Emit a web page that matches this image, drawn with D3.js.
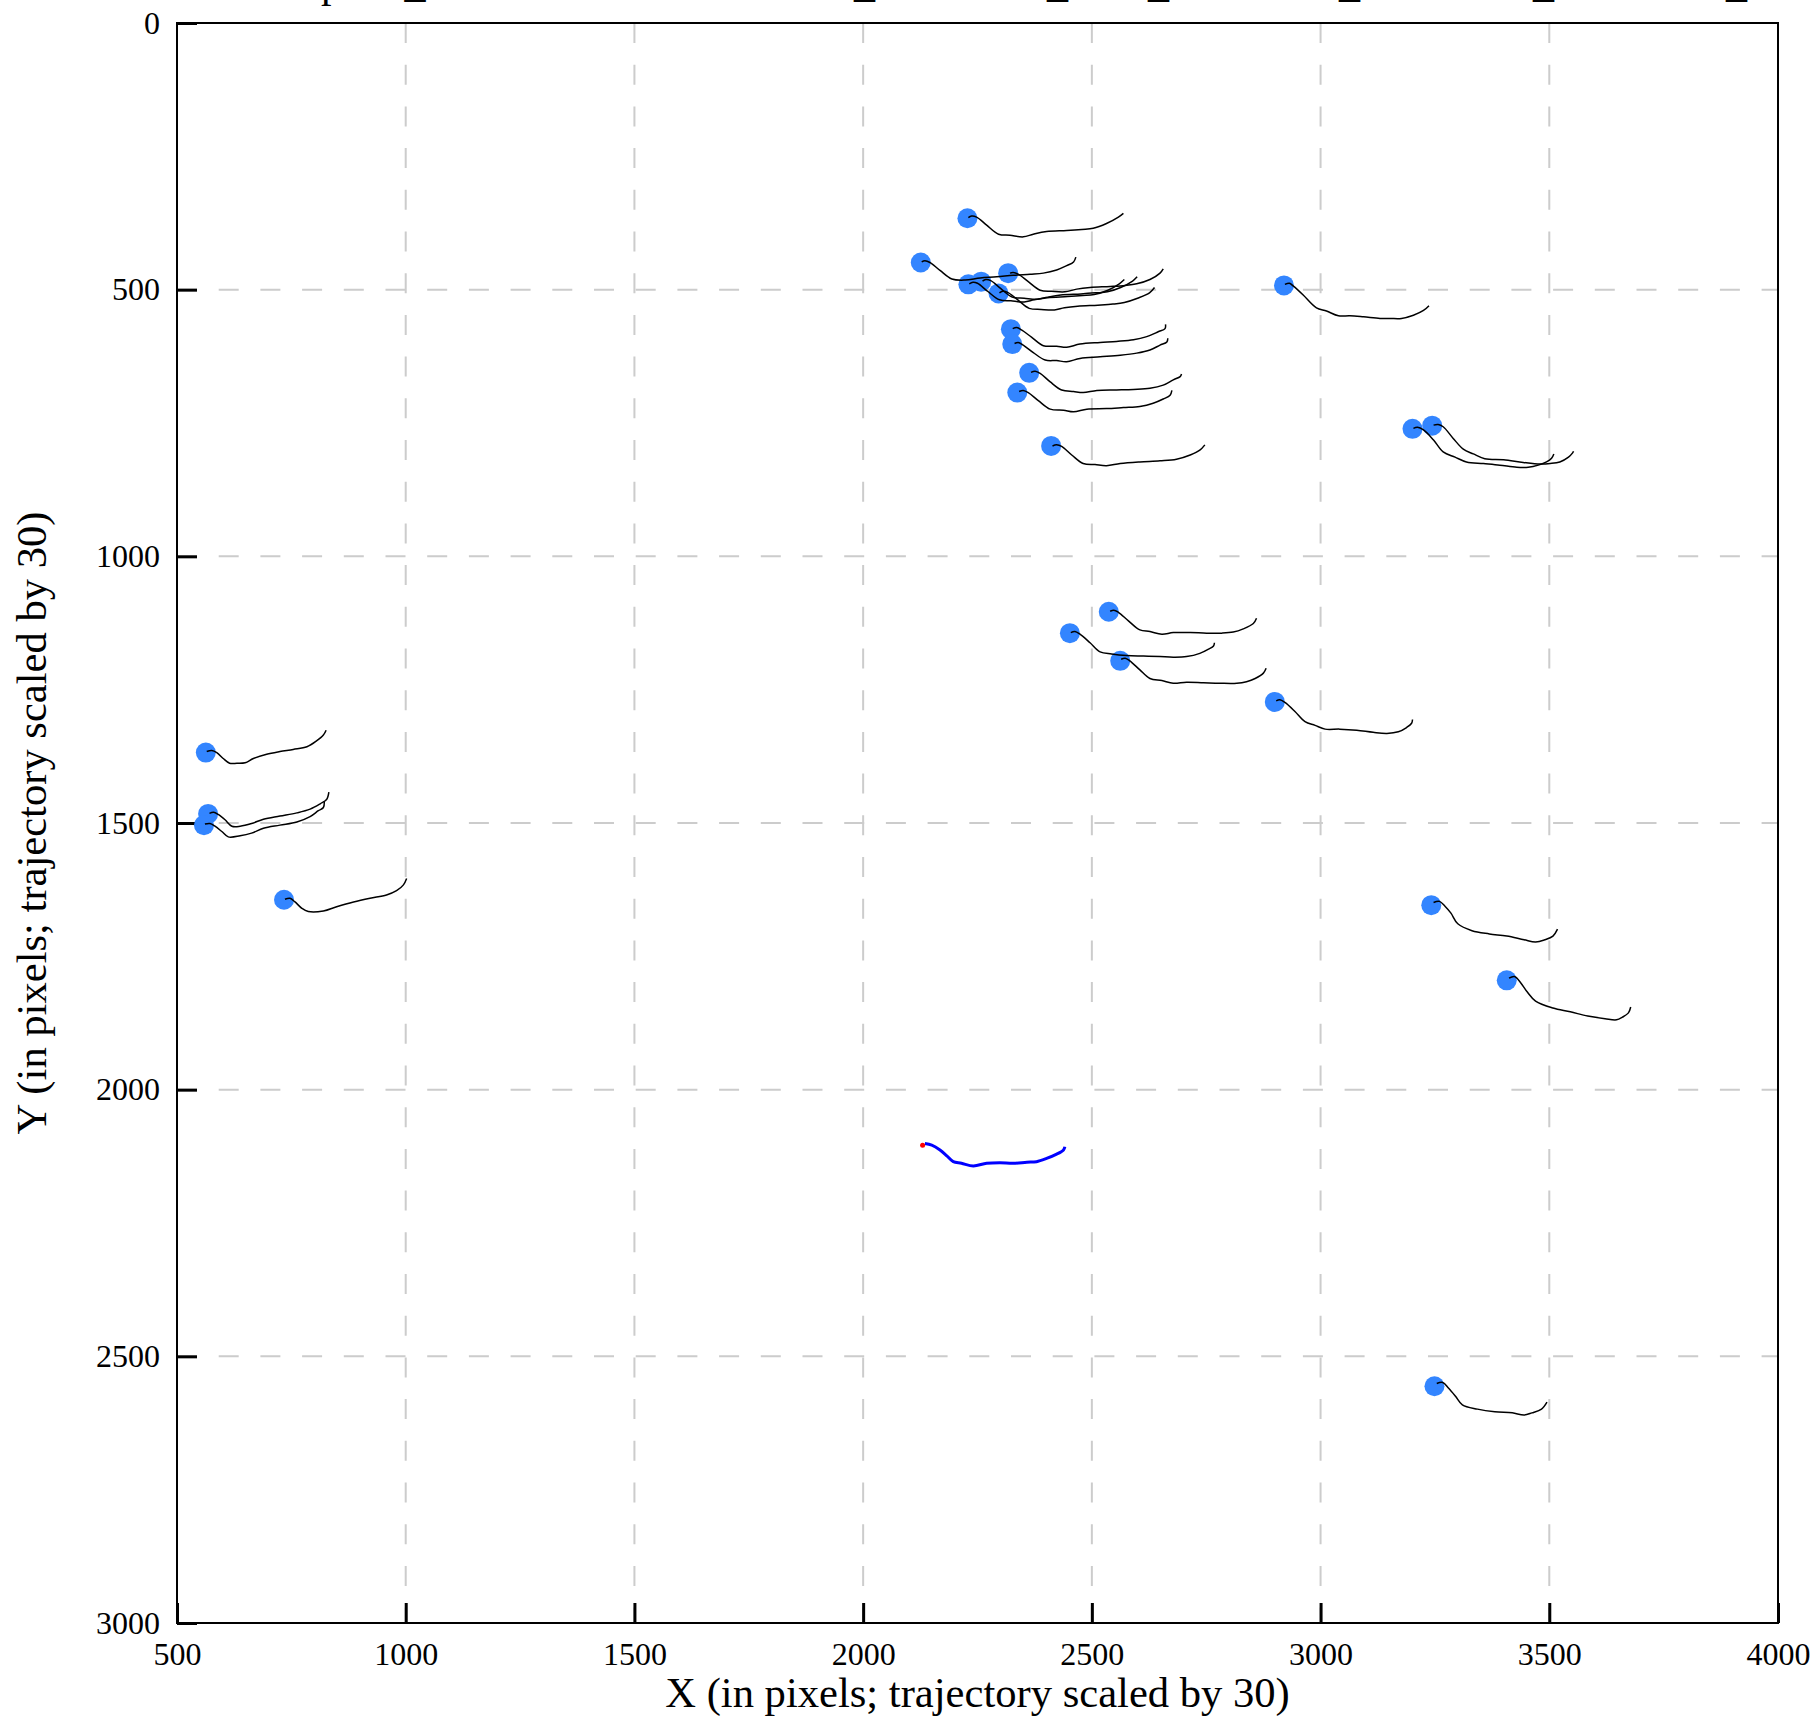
<!DOCTYPE html>
<html>
<head>
<meta charset="utf-8">
<script src="https://cdn.jsdelivr.net/npm/d3@7"></script>
<style>
html, body { margin: 0; padding: 0; background: #ffffff; }
svg { display: block; }
text { font-family: "Liberation Serif", "Times New Roman", serif; fill: #000; }
</style>
</head>
<body>
<svg id="chart" width="1817" height="1723"></svg>
<script>
// ---------------- data ----------------
const xTicks = [500, 1000, 1500, 2000, 2500, 3000, 3500, 4000];
const yTicks = [0, 500, 1000, 1500, 2000, 2500, 3000];
const xLabel = "X (in pixels; trajectory scaled by 30)";
const yLabel = "Y (in pixels; trajectory scaled by 30)";
const titleParts = ["Example", "_scene", "_camera", "_front", "_left", "_token", "_frame", "_ts"];

// agent current positions (blue dots)
const agentX = [2228, 2126, 2317, 2230, 2258, 2296, 2323, 2326, 2363, 2337, 2411, 2920, 3201, 3244,
                2537, 2452, 2562, 2900, 563, 568, 559, 734, 3242, 3407, 3249];
const agentY = [366, 449, 469, 490, 485, 507, 574, 602, 656, 693, 793, 492, 761, 755,
                1104, 1144, 1196, 1273, 1368, 1483, 1504, 1644, 1654, 1795, 2556];

// agent trajectories (black lines), data coordinates
const agentTracks = [
  [[2230,365],[2237,362],[2248,364],[2270,379],[2296,396],[2321,398],[2350,401],[2372,396],[2401,391],[2445,389],[2478,387],[2503,385],[2532,376],[2558,364],[2569,357]],
  [[2128,448],[2135,446],[2146,449],[2168,464],[2194,480],[2223,482],[2256,478],[2292,476],[2328,473],[2365,471],[2394,469],[2423,463],[2445,455],[2460,448],[2465,439]],
  [[2321,469],[2328,468],[2339,471],[2361,485],[2387,501],[2412,503],[2441,504],[2467,499],[2496,496],[2540,494],[2573,492],[2598,489],[2627,481],[2649,469],[2656,461]],
  [[2232,489],[2240,486],[2250,488],[2272,503],[2298,519],[2323,521],[2352,523],[2374,519],[2403,515],[2447,513],[2480,511],[2505,509],[2535,501],[2560,489],[2571,481]],
  [[2261,484],[2268,481],[2279,483],[2301,498],[2326,514],[2352,516],[2381,518],[2403,514],[2432,510],[2476,508],[2508,506],[2534,504],[2563,496],[2589,484],[2599,476]],
  [[2298,506],[2305,503],[2316,505],[2338,519],[2363,535],[2389,537],[2418,538],[2440,534],[2469,531],[2513,529],[2546,527],[2571,524],[2600,516],[2626,506],[2637,496]],
  [[2327,573],[2336,571],[2347,576],[2368,589],[2394,605],[2423,606],[2445,608],[2474,602],[2518,599],[2554,597],[2591,594],[2620,588],[2645,579],[2660,573],[2661,565]],
  [[2331,601],[2339,599],[2350,604],[2372,618],[2398,632],[2423,633],[2445,635],[2474,629],[2518,626],[2562,623],[2598,619],[2627,613],[2649,604],[2664,598],[2666,591]],
  [[2367,655],[2376,653],[2387,657],[2409,673],[2434,688],[2460,691],[2481,693],[2511,689],[2554,688],[2591,687],[2627,685],[2656,679],[2678,669],[2693,663],[2696,658]],
  [[2341,691],[2350,689],[2361,693],[2383,708],[2409,724],[2438,726],[2460,729],[2489,724],[2532,723],[2569,721],[2605,719],[2634,713],[2656,705],[2671,698],[2675,689]],
  [[2414,793],[2423,791],[2434,794],[2456,810],[2481,826],[2507,828],[2532,830],[2562,826],[2605,823],[2649,821],[2685,818],[2715,810],[2736,801],[2747,791]],
  [[2922,490],[2932,488],[2940,493],[2962,510],[2991,534],[3013,540],[3039,549],[3064,549],[3094,551],[3130,554],[3152,554],[3177,554],[3203,548],[3225,539],[3237,530]],
  [[3203,760],[3212,758],[3225,763],[3247,782],[3268,804],[3294,814],[3319,823],[3356,826],[3392,829],[3429,833],[3454,833],[3476,829],[3494,823],[3505,816],[3510,808]],
  [[3247,754],[3257,753],[3268,757],[3290,779],[3312,799],[3334,808],[3359,817],[3400,819],[3443,824],[3480,827],[3502,826],[3523,823],[3542,814],[3551,806],[3553,803]],
  [[2540,1103],[2548,1101],[2558,1105],[2580,1121],[2605,1138],[2627,1141],[2653,1146],[2678,1143],[2715,1143],[2751,1144],[2784,1144],[2809,1142],[2831,1136],[2853,1126],[2860,1116]],
  [[2454,1143],[2463,1141],[2474,1146],[2496,1162],[2518,1179],[2543,1183],[2576,1186],[2613,1187],[2649,1188],[2678,1189],[2707,1188],[2736,1182],[2755,1174],[2766,1168],[2768,1162]],
  [[2564,1193],[2573,1191],[2583,1196],[2605,1213],[2627,1229],[2653,1233],[2678,1238],[2707,1236],[2744,1237],[2780,1238],[2817,1238],[2838,1235],[2857,1229],[2875,1219],[2881,1210]],
  [[2903,1271],[2911,1269],[2922,1274],[2944,1291],[2966,1310],[2988,1317],[3010,1324],[3042,1324],[3079,1326],[3115,1330],[3145,1332],[3170,1329],[3188,1321],[3199,1313],[3201,1306]],
  [[565,1366],[576,1364],[587,1368],[601,1379],[615,1388],[631,1388],[649,1387],[667,1379],[696,1371],[725,1366],[754,1362],[784,1357],[805,1346],[820,1335],[826,1326]],
  [[571,1482],[580,1480],[590,1484],[605,1494],[620,1506],[638,1506],[663,1501],[689,1493],[725,1487],[762,1481],[791,1474],[813,1464],[827,1456],[832,1442]],
  [[561,1502],[572,1501],[583,1506],[598,1516],[612,1526],[638,1524],[663,1519],[689,1510],[725,1504],[762,1498],[791,1488],[809,1477],[820,1471],[822,1460]],
  [[736,1643],[747,1641],[758,1648],[773,1660],[787,1666],[820,1665],[849,1657],[886,1648],[922,1641],[958,1635],[980,1627],[995,1616],[1002,1604]],
  [[3247,1649],[3260,1647],[3272,1656],[3285,1669],[3300,1689],[3331,1702],[3369,1708],[3407,1712],[3445,1719],[3470,1723],[3490,1719],[3508,1712],[3518,1699]],
  [[3412,1791],[3424,1788],[3437,1799],[3452,1817],[3470,1834],[3508,1847],[3546,1854],[3584,1862],[3622,1867],[3647,1869],[3660,1864],[3673,1856],[3678,1845]],
  [[3254,2551],[3267,2549],[3280,2560],[3295,2575],[3310,2591],[3343,2599],[3381,2604],[3419,2606],[3445,2610],[3462,2606],[3483,2599],[3495,2586]]
];

// ego trajectory (blue) and its start (red)
const egoTrack = [[2135,2101],[2150,2104],[2168,2113],[2183,2124],[2197,2135],[2215,2138],[2241,2143],[2270,2138],[2299,2137],[2328,2138],[2358,2136],[2379,2135],[2401,2129],[2423,2121],[2438,2113],[2441,2107]];
const egoStart = [2130, 2104];

// ---------------- drawing ----------------
const svg = d3.select("#chart");
const pL = 177, pR = 1778, pT = 23, pB = 1623;
const x = d3.scaleLinear().domain([500, 4000]).range([pL, pR]);
const y = d3.scaleLinear().domain([0, 3000]).range([pT, pB]);

// title (mostly above the visible area, as in the reference)
const title = svg.append("text")
  .attr("y", -3)
  .style("font-size", "42px");
const titleX = [223, 404.6, 854, 1047, 1148, 1339, 1533, 1726];
titleParts.forEach((t, i) => title.append("tspan").attr("x", titleX[i]).text(t));

// grid
const grid = svg.append("g");
grid.selectAll("line.vx").data(xTicks.filter(v => v > 500 && v < 4000)).join("line")
  .attr("x1", d => x(d)).attr("x2", d => x(d)).attr("y1", pT).attr("y2", pB)
  .attr("stroke", "#cccccc").attr("stroke-width", 2).attr("stroke-dasharray", "20,21.7");
grid.selectAll("line.hy").data(yTicks.filter(v => v > 0 && v < 3000)).join("line")
  .attr("y1", d => y(d)).attr("y2", d => y(d)).attr("x1", pL).attr("x2", pR)
  .attr("stroke", "#cccccc").attr("stroke-width", 2).attr("stroke-dasharray", "20,21.7");

// axes with inward ticks
const xAxis = d3.axisBottom(x).tickValues(xTicks).tickSize(-20).tickFormat(d3.format("d"));
const yAxis = d3.axisLeft(y).tickValues(yTicks).tickSize(-20).tickFormat(d3.format("d"));
const gx = svg.append("g").attr("transform", `translate(0,${pB})`).call(xAxis);
const gy = svg.append("g").attr("transform", `translate(${pL},0)`).call(yAxis);
[gx, gy].forEach(g => {
  g.select(".domain").remove();
  g.selectAll(".tick line").attr("stroke", "#000").attr("stroke-width", 3);
  g.selectAll(".tick text").style("font-size", "32px")
    .style("font-family", "'Liberation Serif', 'Times New Roman', serif").attr("fill", "#000");
});
gx.selectAll(".tick text").attr("y", 19).attr("dy", "0.71em");
gy.selectAll(".tick text").attr("x", -17).attr("dy", "0.32em");

// frame
svg.append("rect").attr("x", pL).attr("y", pT)
  .attr("width", pR - pL).attr("height", pB - pT)
  .attr("fill", "none").attr("stroke", "#000").attr("stroke-width", 2);

// agent dots
svg.append("g").selectAll("circle").data(agentX).join("circle")
  .attr("cx", d => x(d)).attr("cy", (d, i) => y(agentY[i])).attr("r", 10)
  .attr("fill", "#3385ff");

// agent trajectories
const line = d3.line().x(d => x(d[0])).y(d => y(d[1])).curve(d3.curveCatmullRom.alpha(0.5));
svg.append("g").selectAll("path").data(agentTracks).join("path")
  .attr("d", line).attr("fill", "none").attr("stroke", "#000").attr("stroke-width", 1.5);

// ego trajectory
svg.append("path").datum(egoTrack).attr("d", line)
  .attr("fill", "none").attr("stroke", "#0000ff").attr("stroke-width", 3);
svg.append("circle").attr("cx", x(egoStart[0])).attr("cy", y(egoStart[1])).attr("r", 2.5).attr("fill", "#ff0000");

// axis labels
svg.append("text").attr("x", (pL + pR) / 2).attr("y", 1707)
  .attr("text-anchor", "middle").style("font-size", "42.6px").text(xLabel);
svg.append("text").attr("transform", `translate(46,${(pT + pB) / 2}) rotate(-90)`)
  .attr("text-anchor", "middle").style("font-size", "42.6px").text(yLabel);
</script>
</body>
</html>
